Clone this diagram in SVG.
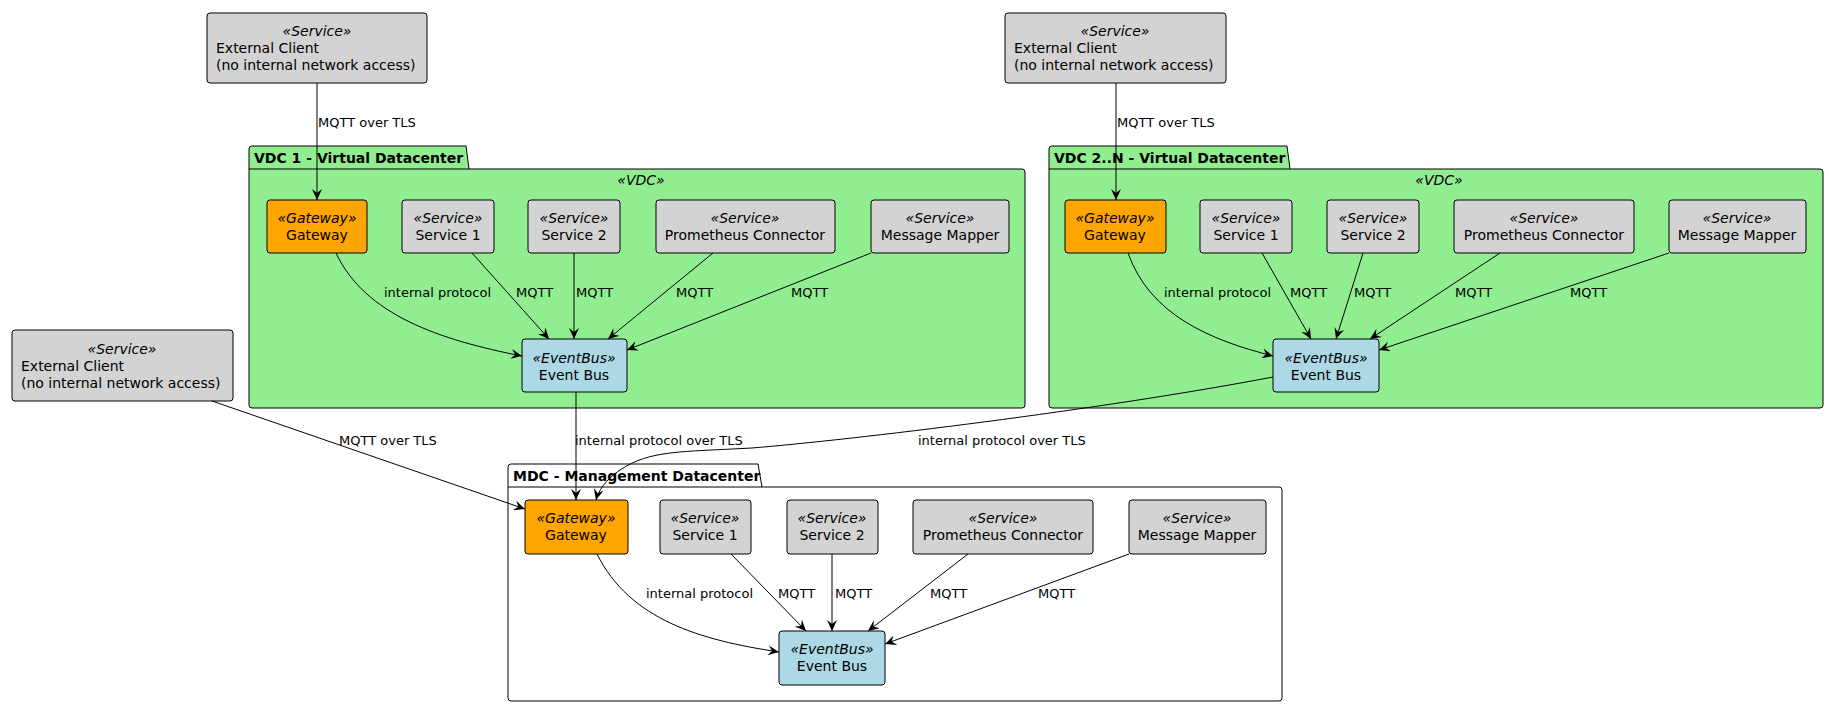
<svg xmlns="http://www.w3.org/2000/svg" width="1829" height="707" viewBox="0 0 1829 707">
<defs>
<marker id="ar" viewBox="0 0 12 10" refX="11" refY="5" markerWidth="12" markerHeight="10" markerUnits="userSpaceOnUse" orient="auto"><path d="M0,0 L11,5 L0,10 L4,5 Z" fill="#000"/></marker>
<style>
text{font-family:"DejaVu Sans",sans-serif;font-size:14px;fill:#000}
.st{font-style:italic;text-anchor:middle}
.c{text-anchor:middle}
.lbl{font-size:13px}
.pt{font-weight:bold;font-size:14px}
.svc{fill:#d3d3d3;stroke:#000;stroke-width:1}
.gw{fill:#ffa500;stroke:#000;stroke-width:1}
.eb{fill:#add8e6;stroke:#000;stroke-width:1}
.pk{fill:#90ee90;stroke:#000;stroke-width:1}
.pw{fill:#fff;stroke:#000;stroke-width:1}
.e{fill:none;stroke:#000;stroke-width:1;marker-end:url(#ar)}
</style>
</defs>
<!-- packages -->
<g id="vdc1">
<path class="pk" d="M249,169 V149 a3,3 0 0 1 3,-3 H466 L469,169 H1022 a3,3 0 0 1 3,3 V405 a3,3 0 0 1 -3,3 H252 a3,3 0 0 1 -3,-3 Z"/>
<line x1="249" y1="169" x2="469" y2="169" stroke="#000"/>
<text class="pt" x="254" y="163">VDC 1 - Virtual Datacenter</text>
<text class="st" x="641" y="185">«VDC»</text>
</g>
<g id="vdc2">
<path class="pk" d="M1049,169 V149 a3,3 0 0 1 3,-3 H1287 L1290,169 H1820 a3,3 0 0 1 3,3 V405 a3,3 0 0 1 -3,3 H1052 a3,3 0 0 1 -3,-3 Z"/>
<line x1="1049" y1="169" x2="1290" y2="169" stroke="#000"/>
<text class="pt" x="1054" y="163">VDC 2..N - Virtual Datacenter</text>
<text class="st" x="1439" y="185">«VDC»</text>
</g>
<g id="mdc">
<path class="pw" d="M508,487 V467 a3,3 0 0 1 3,-3 H758 L762,487 H1279 a3,3 0 0 1 3,3 V698 a3,3 0 0 1 -3,3 H511 a3,3 0 0 1 -3,-3 Z"/>
<line x1="508" y1="487" x2="762" y2="487" stroke="#000"/>
<text class="pt" x="513" y="481">MDC - Management Datacenter</text>
</g>
<!-- external clients -->
<g id="client1"><rect class="svc" x="207" y="13" width="220" height="70" rx="3"/>
<text class="st" x="317" y="36">«Service»</text><text x="216" y="53">External Client</text><text x="216" y="70">(no internal network access)</text></g>
<g id="client2"><rect class="svc" x="1005" y="13" width="221" height="70" rx="3"/>
<text class="st" x="1115" y="36">«Service»</text><text x="1014" y="53">External Client</text><text x="1014" y="70">(no internal network access)</text></g>
<g id="client3"><rect class="svc" x="12" y="330" width="221" height="71" rx="3"/>
<text class="st" x="122" y="354">«Service»</text><text x="21" y="371">External Client</text><text x="21" y="388">(no internal network access)</text></g>
<!-- VDC1 nodes -->
<g id="v1gw"><rect class="gw" x="267" y="200" width="100" height="53" rx="3"/><text class="st" x="317" y="223">«Gateway»</text><text class="c" x="317" y="240">Gateway</text></g>
<g id="v1s1"><rect class="svc" x="402" y="200" width="92" height="53" rx="3"/><text class="st" x="448" y="223">«Service»</text><text class="c" x="448" y="240">Service 1</text></g>
<g id="v1s2"><rect class="svc" x="528" y="200" width="92" height="53" rx="3"/><text class="st" x="574" y="223">«Service»</text><text class="c" x="574" y="240">Service 2</text></g>
<g id="v1pc"><rect class="svc" x="656" y="200" width="179" height="53" rx="3"/><text class="st" x="745" y="223">«Service»</text><text class="c" x="745" y="240">Prometheus Connector</text></g>
<g id="v1mm"><rect class="svc" x="871" y="200" width="138" height="53" rx="3"/><text class="st" x="940" y="223">«Service»</text><text class="c" x="940" y="240">Message Mapper</text></g>
<g id="v1eb"><rect class="eb" x="522" y="339" width="105" height="53" rx="3"/><text class="st" x="574" y="363">«EventBus»</text><text class="c" x="574" y="380">Event Bus</text></g>
<!-- VDC2 nodes -->
<g id="v2gw"><rect class="gw" x="1065" y="200" width="101" height="53" rx="3"/><text class="st" x="1115" y="223">«Gateway»</text><text class="c" x="1115" y="240">Gateway</text></g>
<g id="v2s1"><rect class="svc" x="1200" y="200" width="92" height="53" rx="3"/><text class="st" x="1246" y="223">«Service»</text><text class="c" x="1246" y="240">Service 1</text></g>
<g id="v2s2"><rect class="svc" x="1327" y="200" width="92" height="53" rx="3"/><text class="st" x="1373" y="223">«Service»</text><text class="c" x="1373" y="240">Service 2</text></g>
<g id="v2pc"><rect class="svc" x="1454" y="200" width="180" height="53" rx="3"/><text class="st" x="1544" y="223">«Service»</text><text class="c" x="1544" y="240">Prometheus Connector</text></g>
<g id="v2mm"><rect class="svc" x="1669" y="200" width="137" height="53" rx="3"/><text class="st" x="1737" y="223">«Service»</text><text class="c" x="1737" y="240">Message Mapper</text></g>
<g id="v2eb"><rect class="eb" x="1273" y="339" width="106" height="53" rx="3"/><text class="st" x="1326" y="363">«EventBus»</text><text class="c" x="1326" y="380">Event Bus</text></g>
<!-- MDC nodes -->
<g id="mgw"><rect class="gw" x="525" y="500" width="103" height="54" rx="3"/><text class="st" x="576" y="523">«Gateway»</text><text class="c" x="576" y="540">Gateway</text></g>
<g id="ms1"><rect class="svc" x="660" y="500" width="91" height="54" rx="3"/><text class="st" x="705" y="523">«Service»</text><text class="c" x="705" y="540">Service 1</text></g>
<g id="ms2"><rect class="svc" x="787" y="500" width="91" height="54" rx="3"/><text class="st" x="832" y="523">«Service»</text><text class="c" x="832" y="540">Service 2</text></g>
<g id="mpc"><rect class="svc" x="913" y="500" width="180" height="54" rx="3"/><text class="st" x="1003" y="523">«Service»</text><text class="c" x="1003" y="540">Prometheus Connector</text></g>
<g id="mmm"><rect class="svc" x="1129" y="500" width="137" height="54" rx="3"/><text class="st" x="1197" y="523">«Service»</text><text class="c" x="1197" y="540">Message Mapper</text></g>
<g id="meb"><rect class="eb" x="779" y="631" width="106" height="54" rx="3"/><text class="st" x="832" y="654">«EventBus»</text><text class="c" x="832" y="671">Event Bus</text></g>
<!-- connectors -->
<g id="connectors">
<path class="e" d="M317,83 V200"/>
<path class="e" d="M1116,83 V200"/>
<path class="e" d="M336,253 C365,315 440,340 522,356"/>
<path class="e" d="M472,253 L549,339"/>
<path class="e" d="M574,253 V339"/>
<path class="e" d="M713,253 L608,339"/>
<path class="e" d="M871,253 L627,350"/>
<path class="e" d="M1128,253 C1150,315 1210,340 1273,356"/>
<path class="e" d="M1262,253 L1311,339"/>
<path class="e" d="M1363,253 L1336,339"/>
<path class="e" d="M1500,253 L1370,339"/>
<path class="e" d="M1669,253 L1379,350"/>
<path class="e" d="M576,392 V500"/>
<path class="e" d="M1273,377 C1100,410 850,440 752,448 C680,452 650,450 620,470 C605,480 598,492 596,500"/>
<path class="e" d="M212,401 L525,509"/>
<path class="e" d="M597,554 C630,620 700,640 779,652"/>
<path class="e" d="M731,554 L806,631"/>
<path class="e" d="M832,554 V631"/>
<path class="e" d="M968,554 L868,631"/>
<path class="e" d="M1129,554 L885,644"/>
</g>
<g id="labels" class="lbl">
<text class="lbl" x="318" y="127">MQTT over TLS</text>
<text class="lbl" x="1117" y="127">MQTT over TLS</text>
<text class="lbl" x="384" y="297">internal protocol</text>
<text class="lbl" x="516" y="297">MQTT</text>
<text class="lbl" x="576" y="297">MQTT</text>
<text class="lbl" x="676" y="297">MQTT</text>
<text class="lbl" x="791" y="297">MQTT</text>
<text class="lbl" x="1164" y="297">internal protocol</text>
<text class="lbl" x="1290" y="297">MQTT</text>
<text class="lbl" x="1354" y="297">MQTT</text>
<text class="lbl" x="1455" y="297">MQTT</text>
<text class="lbl" x="1570" y="297">MQTT</text>
<text class="lbl" x="339" y="445">MQTT over TLS</text>
<text class="lbl" x="575" y="445">internal protocol over TLS</text>
<text class="lbl" x="918" y="445">internal protocol over TLS</text>
<text class="lbl" x="646" y="598">internal protocol</text>
<text class="lbl" x="778" y="598">MQTT</text>
<text class="lbl" x="835" y="598">MQTT</text>
<text class="lbl" x="930" y="598">MQTT</text>
<text class="lbl" x="1038" y="598">MQTT</text>
</g>
</svg>
